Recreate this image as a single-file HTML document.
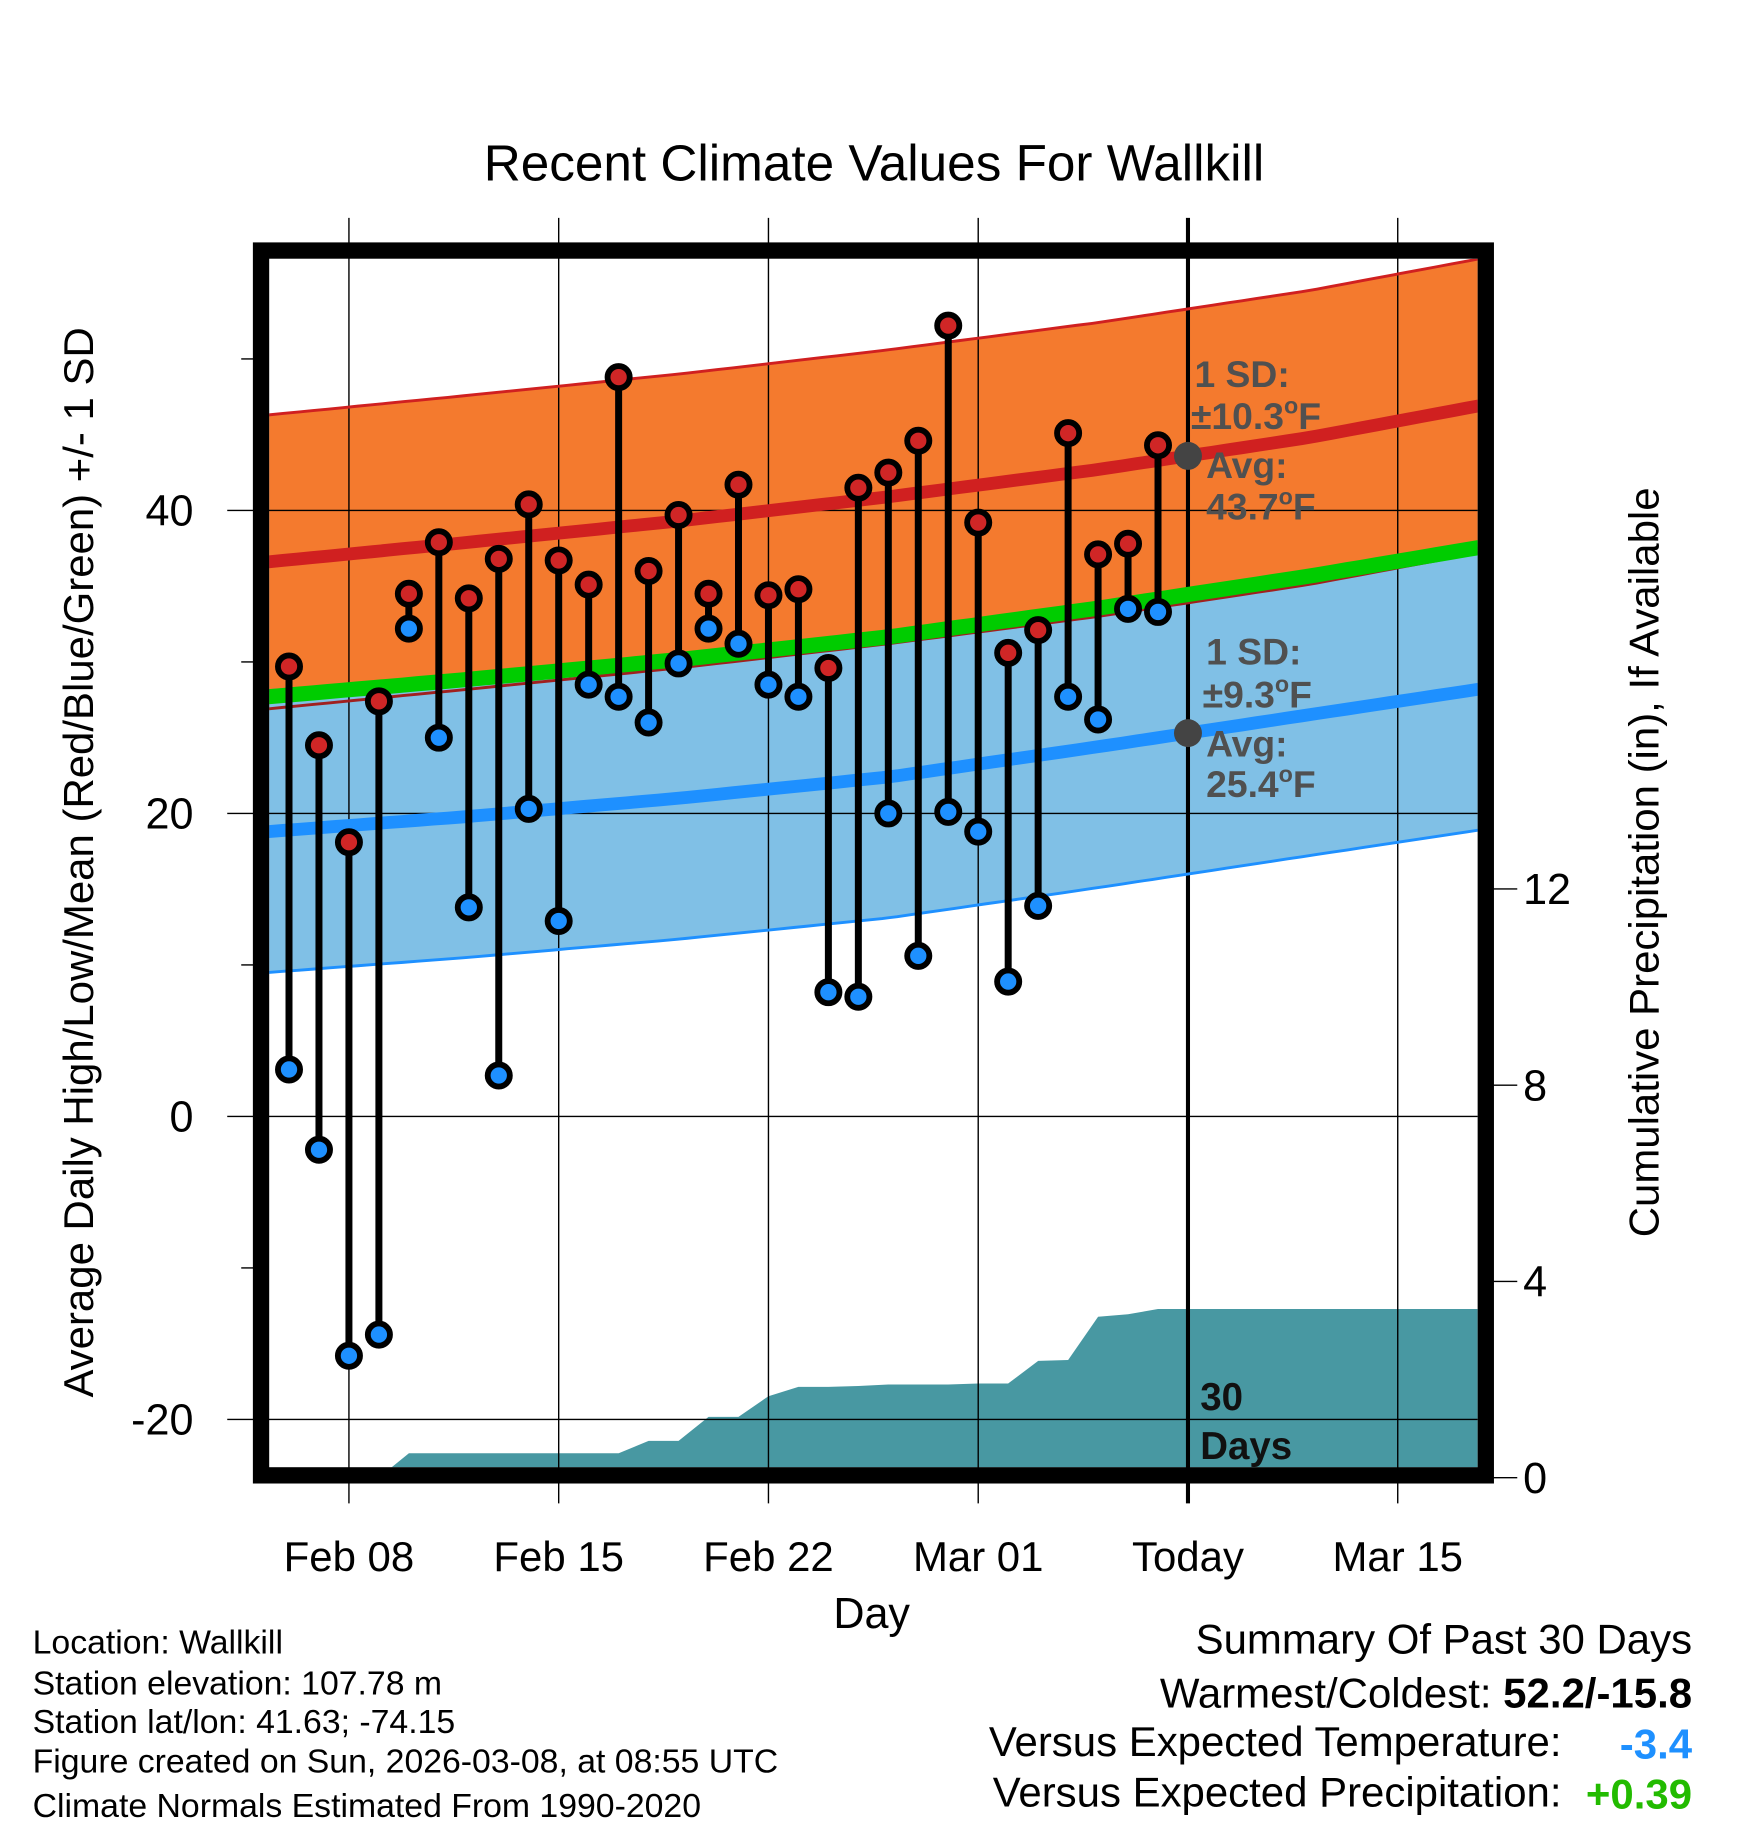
<!DOCTYPE html>
<html><head><meta charset="utf-8"><style>
html,body{margin:0;padding:0;background:#fff;}
svg{display:block;font-family:"Liberation Sans",Arial,sans-serif;}
</style></head><body>
<svg id="chart" width="1748" height="1828" viewBox="0 0 1500 1568.6" preserveAspectRatio="none" xmlns="http://www.w3.org/2000/svg">
<defs><clipPath id="plotclip"><rect x="231" y="222" width="1037" height="1037"/></clipPath></defs>
<g clip-path="url(#plotclip)">
<g id="bands"></g>
<g id="precip"></g>
</g>
<g id="grid"></g>
<g clip-path="url(#plotclip)"><g id="norm-lines"></g></g>
<g id="points"></g>
<g id="annot"></g>
<rect x="224" y="215" width="1051" height="1051" fill="none" stroke="#000" stroke-width="14"/>
<g id="axes" font-size="37"></g>
<text x="750" y="155" font-size="44" text-anchor="middle">Recent Climate Values For Wallkill</text>
<text transform="translate(80,740) rotate(-90)" font-size="36" text-anchor="middle">Average Daily High/Low/Mean (Red/Blue/Green) +/- 1 SD</text>
<text transform="translate(1423,740) rotate(-90)" font-size="36" text-anchor="middle">Cumulative Precipitation (in), If Available</text>
<text x="748" y="1397" font-size="37" text-anchor="middle">Day</text>
<g font-size="29">
<text x="28" y="1419">Location: Wallkill</text>
<text x="28" y="1454">Station elevation: 107.78 m</text>
<text x="28" y="1487">Station lat/lon: 41.63; -74.15</text>
<text x="28" y="1521">Figure created on Sun, 2026-03-08, at 08:55 UTC</text>
<text x="28" y="1559">Climate Normals Estimated From 1990-2020</text>
</g>
<g font-size="36">
<text x="1452" y="1419" text-anchor="end">Summary Of Past 30 Days</text>
<text x="1452" y="1465" text-anchor="end">Warmest/Coldest: <tspan font-weight="bold">52.2/-15.8</tspan></text>
<text x="1340" y="1507" text-anchor="end">Versus Expected Temperature:</text>
<text x="1452" y="1509" text-anchor="end" font-weight="bold" fill="#1e90ff">-3.4</text>
<text x="1340" y="1550" text-anchor="end">Versus Expected Precipitation:</text>
<text x="1452" y="1552" text-anchor="end" font-weight="bold" fill="#22bb00">+0.39</text>
</g>
</svg>
<script>
// ---- data ----
const dayLabels = ["Feb 06","Feb 07","Feb 08","Feb 09","Feb 10","Feb 11","Feb 12","Feb 13","Feb 14","Feb 15","Feb 16","Feb 17","Feb 18","Feb 19","Feb 20","Feb 21","Feb 22","Feb 23","Feb 24","Feb 25","Feb 26","Feb 27","Feb 28","Mar 01","Mar 02","Mar 03","Mar 04","Mar 05","Mar 06","Mar 07"];
const highs = [29.7,24.5,18.1,27.4,34.5,37.9,34.2,36.8,40.4,36.7,35.1,48.8,36.0,39.7,34.5,41.7,34.4,34.8,29.6,41.5,42.5,44.6,52.2,39.2,30.6,32.1,45.1,37.1,37.8,44.3];
const lows = [3.1,-2.2,-15.8,-14.4,32.2,25.0,13.8,2.7,20.3,12.9,28.5,27.7,26.0,29.9,32.2,31.2,28.5,27.7,8.2,7.9,20.0,10.6,20.1,18.8,8.9,13.9,27.7,26.2,33.5,33.3];
const precipCum = [0,0,0,0,0.5,0.5,0.5,0.5,0.5,0.5,0.5,0.5,0.75,0.75,1.24,1.24,1.66,1.85,1.85,1.87,1.9,1.9,1.9,1.92,1.92,2.38,2.4,3.28,3.33,3.44];
// normals at day offsets (0 = Feb 06)
const normalDays = [-0.7,6,13,20,27,34,39.7];
const normalHigh = [36.6,37.9,39.3,40.9,42.7,44.8,46.9];
const normalLow = [18.8,19.8,21.0,22.4,24.4,26.5,28.2];
const sdHigh = 9.7;
const sdLow = 9.3;
const xTickDays = [2,9,16,23,30,37];
const xTickLabels = ["Feb 08","Feb 15","Feb 22","Mar 01","Today","Mar 15"];
const yTicks = [40,20,0,-20];
const yMinor = [50,30,10,-10];
const y2Ticks = [0,4,8,12];

// ---- scales ----
const X0=231, X1=1268, Y0=222, Y1=1259;
const x = d => 248 + d*(180/7);
const y = v => 958 - 13*v;
const y2 = v => 1268 - 42.1*v;
const dMin = -0.7, dMax = 39.7;
const NS="http://www.w3.org/2000/svg";
function mk(tag, parent, attrs){const e=document.createElementNS(NS,tag);for(const k in attrs)e.setAttribute(k,attrs[k]);parent.appendChild(e);return e;}
function interp(xs, ys, d){for(let i=0;i<xs.length-1;i++){if(d<=xs[i+1]){const t=(d-xs[i])/(xs[i+1]-xs[i]);return ys[i]+t*(ys[i+1]-ys[i]);}}return ys[ys.length-1];}
const samples=[];for(let d=dMin; d<dMax; d+=0.5) samples.push(d); samples.push(dMax);
const line = f => samples.map(d=>x(d).toFixed(1)+","+y(f(d)).toFixed(1)).join(" ");
const nh = d=>interp(normalDays,normalHigh,d), nl = d=>interp(normalDays,normalLow,d);

const bands=document.getElementById('bands');
function band(top,bot,fill,name){const pts=samples.map(d=>x(d).toFixed(1)+","+y(top(d)).toFixed(1)).concat(samples.slice().reverse().map(d=>x(d).toFixed(1)+","+y(bot(d)).toFixed(1)));const p=mk('polygon',bands,{points:pts.join(" "),fill:fill});

}
band(d=>nh(d)+sdHigh,d=>nh(d)-sdHigh,'#f47a2e','high-sd-band');
band(d=>nl(d)+sdLow,d=>nl(d)-sdLow,'#80c0e6','low-sd-band');

// precip
const pg=document.getElementById('precip');
let pp=[];
pp.push(x(3).toFixed(1)+","+y2(0));
for(let i=3;i<precipCum.length;i++) pp.push(x(i).toFixed(1)+","+y2(precipCum[i]).toFixed(1));
pp.push(X1+","+y2(precipCum[precipCum.length-1]).toFixed(1));
pp.push(X1+","+y2(0));
const pa=mk('polygon',pg,{points:pp.join(" "),fill:'#4898a2'});



// grid
const grid=document.getElementById('grid');
xTickDays.forEach((d,i)=>{const l=mk('line',grid,{x1:x(d),x2:x(d),y1:187,y2:1290,stroke:'#000','stroke-width':i===4?3.5:1.2});

});
yTicks.forEach(v=>{const l=mk('line',grid,{x1:195,x2:X1,y1:y(v),y2:y(v),stroke:'#000','stroke-width':1.2});

});

// normal lines
const nlg=document.getElementById('norm-lines');
function pl(f,stroke,w,name){const p=mk('polyline',nlg,{points:line(f),fill:'none',stroke:stroke,'stroke-width':w});

}
pl(d=>nh(d)+sdHigh,'#d02020',2.5,'high-sd-upper');
pl(d=>nl(d)+sdLow,'#1e90ff',2.5,'low-sd-upper');
pl(d=>nl(d)-sdLow,'#1e90ff',2.5,'low-sd-lower');
pl(d=>nh(d)-sdHigh,'#a02020',2.5,'high-sd-lower');
pl(d=>(nh(d)+nl(d))/2,'#00cc00',13,'normal-mean-line');
pl(nh,'#d02020',11,'normal-high-line');
pl(nl,'#1e90ff',11,'normal-low-line');

// points
const pts=document.getElementById('points');
highs.forEach((h,i)=>{const l=mk('line',pts,{x1:x(i),x2:x(i),y1:y(h),y2:y(lows[i]),stroke:'#000','stroke-width':6});

});
highs.forEach((h,i)=>{const c=mk('circle',pts,{cx:x(i),cy:y(h),r:9.5,fill:'#d02626',stroke:'#000','stroke-width':5});


const c2=mk('circle',pts,{cx:x(i),cy:y(lows[i]),r:9.5,fill:'#1e90ff',stroke:'#000','stroke-width':5});

});

// annotations
const an=document.getElementById('annot');
const tx=x(30);
const dh=mk('circle',an,{cx:tx,cy:y(nh(30)),r:12,fill:'#444'});


const dl=mk('circle',an,{cx:tx,cy:y(nl(30)),r:12,fill:'#444'});


an.insertAdjacentHTML('beforeend',
`<g font-size="32" font-weight="bold" fill="#505050">
<text x="1025" y="332">1 SD:</text>
<text x="1022" y="368">±10.3<tspan font-size="20" dy="-13">o</tspan><tspan dy="13">F</tspan></text>
<text x="1035" y="410">Avg:</text>
<text x="1035" y="446">43.7<tspan font-size="20" dy="-13">o</tspan><tspan dy="13">F</tspan></text>
<text x="1035" y="570">1 SD:</text>
<text x="1032" y="607">±9.3<tspan font-size="20" dy="-13">o</tspan><tspan dy="13">F</tspan></text>
<text x="1035" y="649">Avg:</text>
<text x="1035" y="684">25.4<tspan font-size="20" dy="-13">o</tspan><tspan dy="13">F</tspan></text>
</g>
<g font-size="33" font-weight="bold" fill="#111">
<text x="1030" y="1210">30</text>
<text x="1030" y="1252">Days</text>
</g>`);

// axes
const ax=document.getElementById('axes');
yTicks.forEach(v=>{const t=mk('text',ax,{x:166,y:y(v)+13,'text-anchor':'end'});t.textContent=v;

});
yMinor.forEach(v=>{const l=mk('line',ax,{x1:207,x2:220,y1:y(v),y2:y(v),stroke:'#000','stroke-width':1.2});

});
y2Ticks.forEach(v=>{const l=mk('line',ax,{x1:1280,x2:1302,y1:y2(v),y2:y2(v),stroke:'#000','stroke-width':1.2});


const t=mk('text',ax,{x:1307,y:y2(v)+13});t.textContent=v;

});
xTickDays.forEach((d,i)=>{const t=mk('text',ax,{x:x(d),y:1348,'text-anchor':'middle','font-size':36});t.textContent=xTickLabels[i];

});
</script>
</body></html>
